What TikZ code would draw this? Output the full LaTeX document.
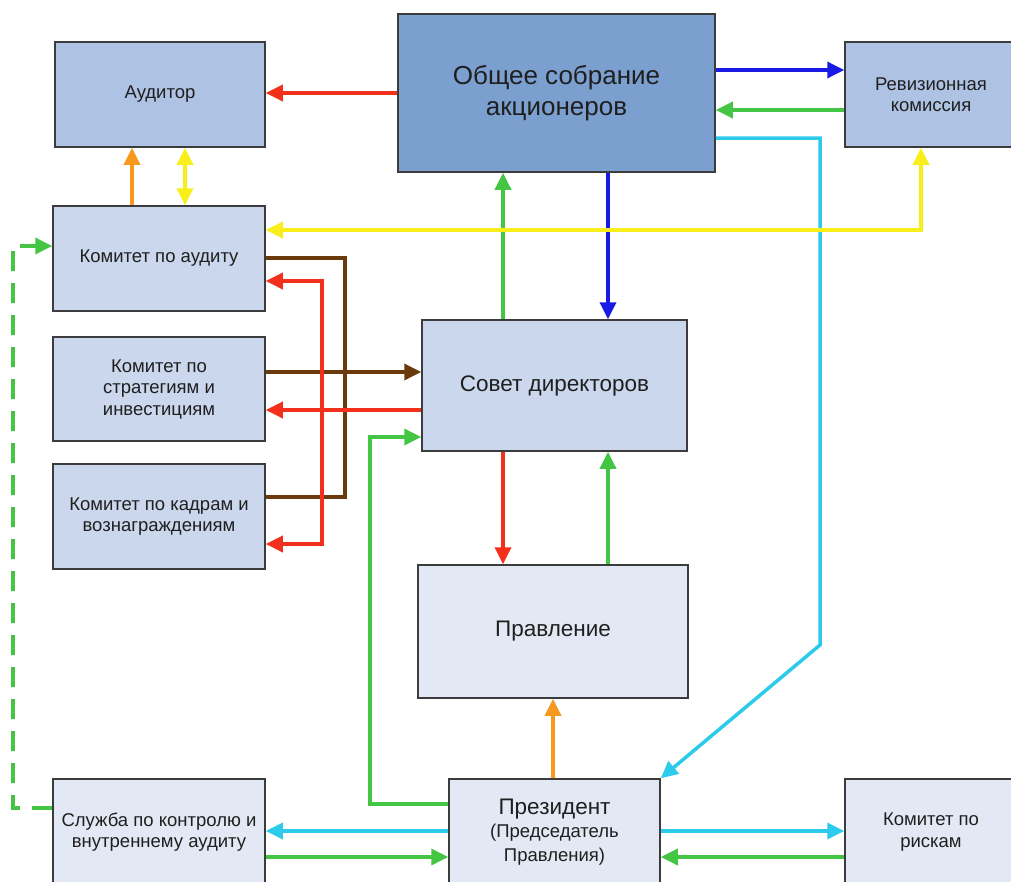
\documentclass[tikz,border=0pt]{standalone}
\usepackage{fontspec}
\setmainfont{Liberation Sans}
\usetikzlibrary{arrows.meta}

\definecolor{boxline}{HTML}{3C3C3C}
\definecolor{fillA}{HTML}{7B9FCF}
\definecolor{fillB}{HTML}{AEC3E3}
\definecolor{fillC}{HTML}{CAD7EC}
\definecolor{fillD}{HTML}{E3E9F4}
\definecolor{cred}{HTML}{F2301C}
\definecolor{cblue}{HTML}{1A1AE6}
\definecolor{cgreen}{HTML}{44C644}
\definecolor{ccyan}{HTML}{2CCBEB}
\definecolor{cyellow}{HTML}{F8EE1A}
\definecolor{corange}{HTML}{F59A1E}
\definecolor{cbrown}{HTML}{6A3A0C}

\tikzset{
	box/.style={
		rectangle,
		draw=boxline,
		line width=1.5pt,
		inner sep=0pt,
		align=center,
		text=black!88,
		font=\fontsize{18.5}{21.5}\selectfont
	},
	bigtext/.style={font=\fontsize{26}{31}\selectfont},
	midtext/.style={font=\fontsize{22.5}{25}\selectfont},
	link/.style={line width=3.5pt, ->}
}

\begin{document}
\begin{tikzpicture}[x={(1pt,0)}, y={(0,-1pt)}, >={Triangle[length=17pt,width=16pt]}]
	\useasboundingbox (0,0) rectangle (1011,881);

	\node[box, fill=fillA, bigtext, minimum width=317pt, minimum height=158pt] (osa) at (556.5,93) {Общее собрание\\акционеров};
	\node[box, fill=fillB, minimum width=210pt, minimum height=105pt] (aud) at (160,94.5) {Аудитор};
	\node[box, fill=fillB, minimum width=172pt, minimum height=105pt] (rev) at (931,94.5) {Ревизионная\\комиссия};

	\node[box, fill=fillC, minimum width=212pt, minimum height=105pt] (kaud) at (159,258.5) {Комитет по аудиту};
	\node[box, fill=fillC, minimum width=212pt, minimum height=104pt] (kstr) at (159,389) {Комитет по\\стратегиям и\\инвестициям};
	\node[box, fill=fillC, minimum width=212pt, minimum height=105pt] (kkadr) at (159,516.5) {Комитет по кадрам и\\вознаграждениям};

	\node[box, fill=fillC, midtext, minimum width=265pt, minimum height=131pt] (sd) at (554.5,385.5) {Совет директоров};
	\node[box, fill=fillD, midtext, minimum width=270pt, minimum height=133pt] (pr) at (553,631.5) {Правление};

	\node[box, fill=fillD, minimum width=212pt, minimum height=106pt] (sl) at (159,832) {Служба по контролю и\\внутреннему аудиту};
	\node[box, fill=fillD, minimum width=211pt, minimum height=106pt] (pres) at (554.5,832) {{\fontsize{22.5}{25}\selectfont Президент}\\[2pt](Председатель\\[2pt]Правления)};
	\node[box, fill=fillD, minimum width=172pt, minimum height=106pt] (risk) at (931,832) {Комитет по\\рискам};

	\coordinate (cbend) at (820,645);

	\draw[link, cred] (osa.west) -- (aud.east |- osa.west);
	\draw[link, cblue] (osa.east |- 0,70) -- (rev.west |- 0,70);
	\draw[link, cgreen] (rev.west |- 0,110) -- (osa.east |- 0,110);
	\draw[link, ccyan] (osa.east |- 0,138) -| (cbend) -- (pres.north east);
	\draw[link, cblue] (osa.south -| 608,0) -- (sd.north -| 608,0);
	\draw[link, cgreen] (sd.north -| 503,0) -- (osa.south -| 503,0);

	\draw[link, corange] (kaud.north -| 132,0) -- (aud.south -| 132,0);
	\draw[link, cyellow, <->] (kaud.north -| 185,0) -- (aud.south -| 185,0);
	\draw[link, cyellow, <->] (kaud.east |- 0,230) -| (rev.south -| 921,0);

	\draw[link, cbrown, -] (kaud.east |- 0,258) -| (345,497) -- (kkadr.east |- 0,497);
	\draw[link, cbrown] (kstr.east |- 0,372) -- (sd.west |- 0,372);
	\draw[link, cred] (sd.west |- 0,410) -- (kstr.east |- 0,410);
	\draw[link, cred, <->] (kaud.east |- 0,281) -| (322,544) -- (kkadr.east |- 0,544);

	\draw[link, cgreen] (pres.west |- 0,804) -| (370,437) -- (sd.west |- 0,437);
	\draw[link, cred] (sd.south -| 503,0) -- (pr.north -| 503,0);
	\draw[link, cgreen] (pr.north -| 608,0) -- (sd.south -| 608,0);
	\draw[link, corange] (pres.north -| 553,0) -- (pr.south -| 553,0);

	\draw[link, ccyan] (pres.west |- 0,831) -- (sl.east |- 0,831);
	\draw[link, cgreen] (sl.east |- 0,857) -- (pres.west |- 0,857);
	\draw[link, ccyan] (pres.east |- 0,831) -- (risk.west |- 0,831);
	\draw[link, cgreen] (risk.west |- 0,857) -- (pres.east |- 0,857);

	\draw[link, cgreen, dash pattern=on 20pt off 12pt] (sl.west |- 0,808) -| (13,246) -- (kaud.west |- 0,246);
\end{tikzpicture}
\end{document}
